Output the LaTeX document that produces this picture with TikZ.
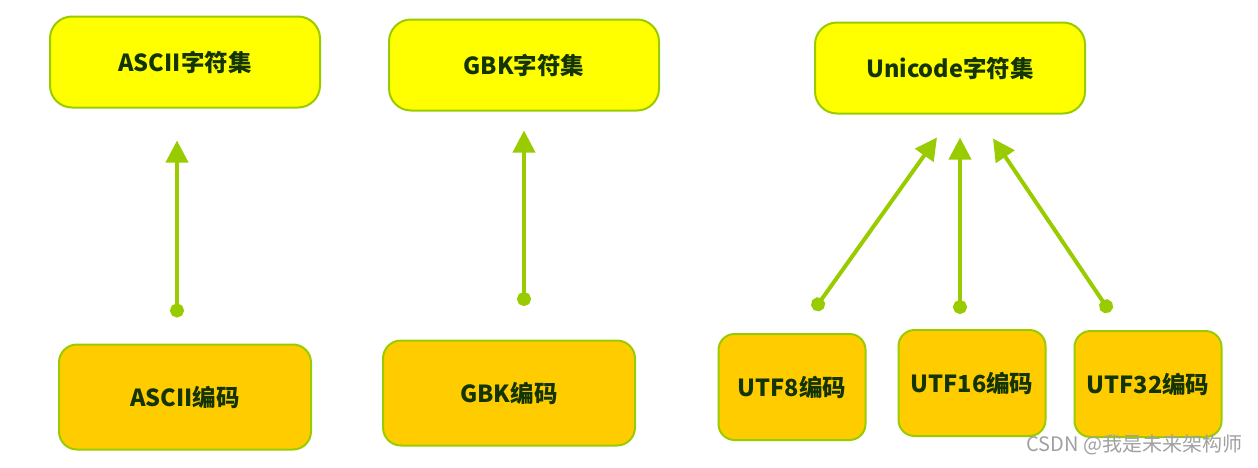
\documentclass[tikz,border=0pt]{standalone}
\usepackage{fontspec}
\newfontfamily\cjk{Noto Sans CJK SC}
\usepackage{tikz}
\usetikzlibrary{arrows.meta,positioning,calc}
\definecolor{setyellow}{RGB}{255,255,0}
\definecolor{encgold}{RGB}{255,204,0}
\definecolor{limegreen}{RGB}{153,204,0}
\definecolor{textgreen}{RGB}{20,52,4}
\definecolor{markgrey}{RGB}{160,160,160}

\begin{document}
\begin{tikzpicture}[x=1pt,y=-1pt,
    setbox/.style={rectangle, rounded corners=22pt, draw=limegreen, line width=2pt, fill=setyellow, minimum width=270pt, minimum height=91pt, align=center, text=textgreen, font=\cjk\bfseries\fontsize{23.5}{28}\selectfont},
    encbox/.style={setbox, rounded corners=18pt, fill=encgold, minimum width=252pt, minimum height=105pt},
    utfbox/.style={encbox, rounded corners=16pt, minimum width=147pt, minimum height=106pt},
    arrow/.style={{Circle[length=14pt]}-{Triangle[length=22pt,width=22pt]}, draw=limegreen, line width=4pt}
]
\useasboundingbox (0,0) rectangle (1258,467);

\node[setbox] (asciiset) at (185,62) {ASCII字符集};
\node[setbox] (gbkset) at (524,65) {GBK字符集};
\node[setbox] (uniset) at (950,68) {Unicode字符集};

\node[encbox] (asciienc) at (185,397) {ASCII编码};
\node[encbox] (gbkenc) at (509,393) {GBK编码};
\node[utfbox] (utf8) at (792,387) {UTF8编码};
\node[utfbox] (utf16) at (972,383) {UTF16编码};
\node[utfbox] (utf32) at (1148,384) {UTF32编码};

\draw[arrow] ([xshift=-8pt,yshift=26pt]asciienc.north) -- ([xshift=-8pt,yshift=-32pt]asciiset.south);
\draw[arrow] ([xshift=15pt,yshift=33.5pt]gbkenc.north) -- ([yshift=-19pt]gbkset.south);
\draw[arrow] ([xshift=22pt,yshift=23pt]utf8.north) -- ([xshift=-13pt,yshift=-23pt]uniset.south);
\draw[arrow] ([xshift=-12pt,yshift=15pt]utf16.north) -- ([xshift=10pt,yshift=-23pt]uniset.south);
\draw[arrow] ([xshift=-38pt,yshift=18pt]utf32.north) -- ([xshift=43pt,yshift=-24pt]uniset.south);

\node[anchor=east, text=markgrey, font=\cjk\fontsize{20}{24}\selectfont] (mark) at (1246,445) {CSDN @我是未来架构师};
\end{tikzpicture}
\end{document}
